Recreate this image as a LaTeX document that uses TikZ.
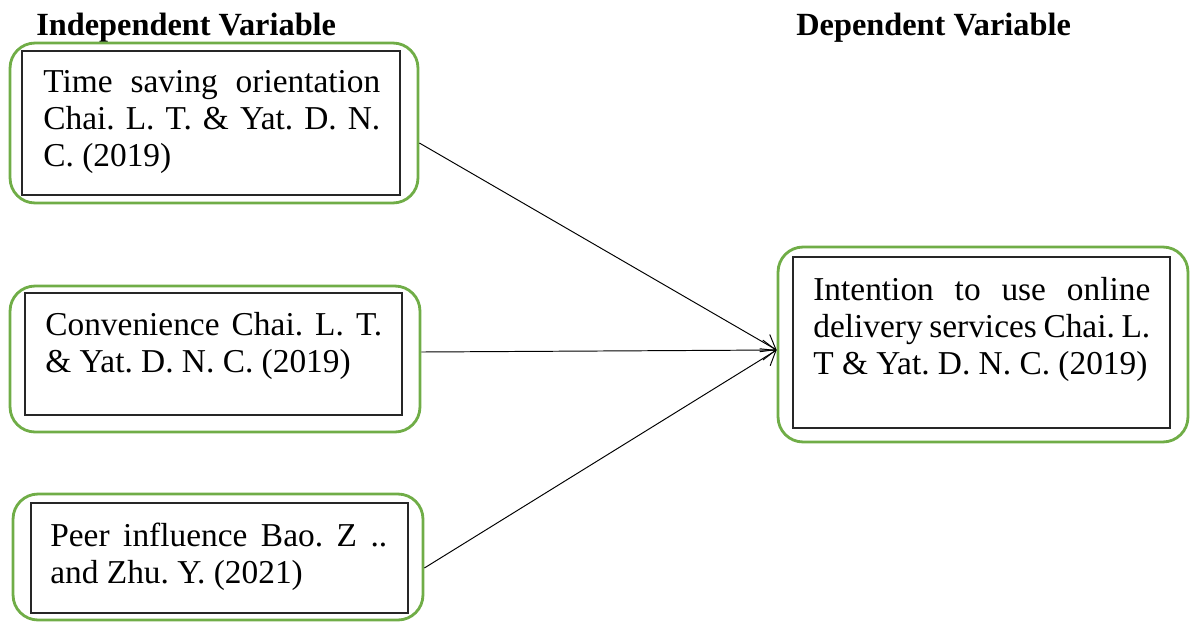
\documentclass[tikz,border=0pt]{standalone}
\usepackage{fontspec}
\setmainfont{Liberation Serif}
\usetikzlibrary{arrows.meta}

\definecolor{framegreen}{RGB}{112,173,71}

\tikzset{
    greenframe/.style={draw=framegreen, line width=1.6pt, rounded corners=0.5cm},
    varbox/.style={draw=black!85, line width=0.8pt},
    vartext/.style={anchor=north west, text width=6.74cm, align=justify, inner sep=0pt,
        font=\fontsize{19}{21}\selectfont\frenchspacing},
    heading/.style={anchor=base west, inner sep=0pt, font=\fontsize{18.4}{21}\selectfont\bfseries},
    link/.style={-{Straight Barb[length=0.26cm,width=0.4cm]}, line width=0.55pt},
}

\begin{document}
\begin{tikzpicture}[x=0.02cm, y=-0.02cm]

        \useasboundingbox (0,0) rectangle (1195,622);

        % Headings
        \node[heading] (indep) at (36,35) {Independent Variable};
        \node[heading] (dep) at (796,35) {Dependent Variable};

        % Time saving orientation
        \node[greenframe, minimum width=8.16cm, minimum height=3.2cm] (frame1) at (214,123) {};
        \node[varbox, minimum width=7.56cm, minimum height=2.88cm] (box1) at (211,123) {};
        \node[vartext] (time) at (43,70) {Time saving orientation\linebreak Chai. L. T. \& Yat. D. N.\linebreak C. (2019)};

        % Convenience
        \node[greenframe, minimum width=8.2cm, minimum height=2.92cm] (frame2) at (215,359) {};
        \node[varbox, minimum width=7.54cm, minimum height=2.44cm] (box2) at (213.5,354) {};
        \node[vartext] (conv) at (45,312) {Convenience Chai. L. T.\linebreak \& Yat. D. N. C. (2019)};

        % Peer influence
        \node[greenframe, minimum width=8.2cm, minimum height=2.52cm] (frame3) at (218,557) {};
        \node[varbox, minimum width=7.54cm, minimum height=2.2cm] (box3) at (219.5,558) {};
        \node[vartext] (peer) at (50,523) {Peer influence Bao. Z ..\linebreak and Zhu. Y. (2021)};

        % Intention to use
        \node[greenframe, minimum width=8.2cm, minimum height=3.9cm] (frame4) at (983,344.5) {};
        \node[varbox, minimum width=7.54cm, minimum height=3.42cm] (box4) at (981.5,342.5) {};
        \node[vartext] (intent) at (813,277) {Intention to use online\linebreak delivery services Chai. L.\linebreak T \& Yat. D. N. C. (2019)};

        % Arrows
        \coordinate (target) at ([yshift=-0.11cm]frame4.west);
        \draw[link] ([yshift=-0.4cm]frame1.east) -- (target);
        \draw[link] ([yshift=0.14cm]frame2.east) -- (target);
        \draw[link] ([yshift=-0.22cm]frame3.east) -- (target);

\end{tikzpicture}
\end{document}
